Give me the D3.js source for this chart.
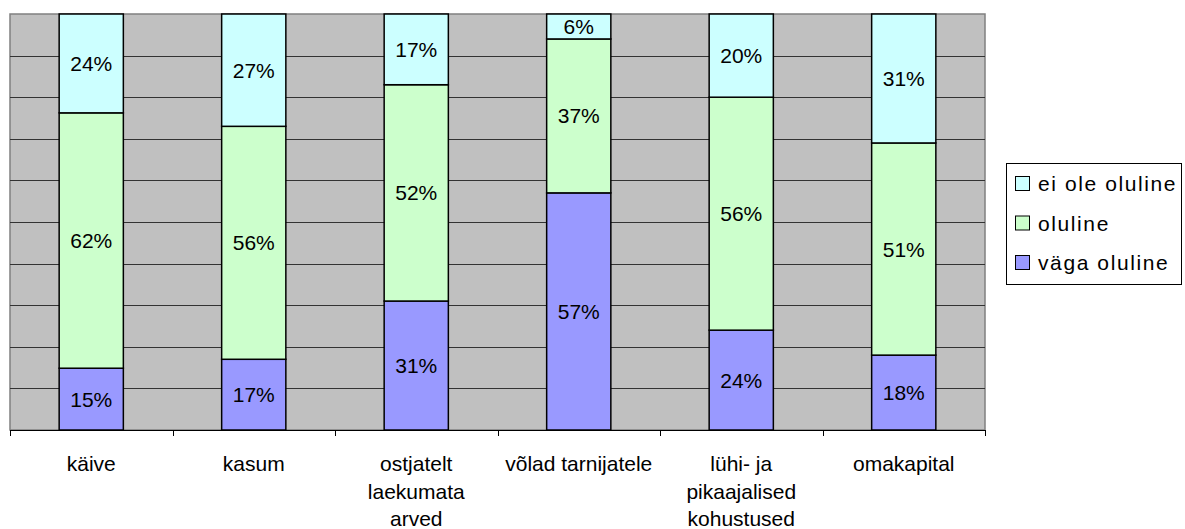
<!DOCTYPE html>
<html><head><meta charset="utf-8">
<script src="https://cdn.jsdelivr.net/npm/d3@7"></script>
<style>body{margin:0;background:#fff}svg{display:block}text{font-family:"Liberation Sans",Arial,sans-serif}</style>
</head><body>
<svg id="c" width="1185" height="529"></svg>
<script>
const categories = ["käive","kasum","ostjatelt laekumata arved","võlad tarnijatele","lühi- ja pikaajalised kohustused","omakapital"];
const categoryLines = [["käive"],["kasum"],["ostjatelt","laekumata","arved"],["võlad tarnijatele"],["lühi- ja","pikaajalised","kohustused"],["omakapital"]];
const seriesNames = ["väga oluline","oluline","ei ole oluline"];
const vagaOluline = [15,17,31,57,24,18];
const oluline = [62,56,52,37,56,51];
const eiOleOluline = [24,27,17,6,20,31];
const colors = ["#9999FF","#CCFFCC","#CCFFFF"];
const gridTicks = [0,0.1,0.2,0.3,0.4,0.5,0.6,0.7,0.8,0.9,1];

const svg = d3.select("#c");
const L=10,R=985,T=14,B=430;
const rows = categories.map((c,i)=>({cat:c, "väga oluline":vagaOluline[i], "oluline":oluline[i], "ei ole oluline":eiOleOluline[i]}));
const stack = d3.stack().keys(seriesNames).offset(d3.stackOffsetExpand);
const series = stack(rows);
const x = d3.scaleBand().domain(categories).range([L,R]).paddingInner(0).paddingOuter(0);
const y = d3.scaleLinear().domain([0,1]).range([B,T]);

svg.append("rect").attr("x",L).attr("y",T).attr("width",R-L).attr("height",B-T).attr("fill","#C0C0C0").attr("stroke","#808080").attr("stroke-width",1.5);
svg.append("g").selectAll("line").data(gridTicks.slice(1,-1)).join("line")
  .attr("x1",L).attr("x2",R).attr("y1",d=>Math.round(y(d))+0.5).attr("y2",d=>Math.round(y(d))+0.5)
  .attr("stroke","#333").attr("stroke-width",1);

const bw = x.bandwidth()*0.395;
const g = svg.append("g");
series.forEach((s,si)=>{
  g.selectAll(null).data(s).join("rect")
    .attr("x",d=>x(d.data.cat)+x.bandwidth()/2-bw/2)
    .attr("y",d=>y(d[1])).attr("width",bw).attr("height",d=>y(d[0])-y(d[1]))
    .attr("fill",colors[si]).attr("stroke","#000").attr("stroke-width",1.5);
});
series.forEach((s,si)=>{
  g.selectAll(null).data(s).join("text")
    .attr("x",d=>x(d.data.cat)+x.bandwidth()/2)
    .attr("y",d=>(y(d[0])+y(d[1]))/2)
    .attr("dy","0.36em").attr("text-anchor","middle").attr("font-size",21)
    .text(d=>d.data[s.key]+"%");
});

// x axis
svg.append("line").attr("x1",L).attr("x2",R).attr("y1",B+0.5).attr("y2",B+0.5).attr("stroke","#000").attr("stroke-width",1);
const tickXs = categories.map(c=>x(c)).concat([R]);
svg.append("g").selectAll("line").data(tickXs).join("line")
  .attr("x1",d=>Math.round(d)+0.5).attr("x2",d=>Math.round(d)+0.5).attr("y1",B).attr("y2",B+6).attr("stroke","#000");
const lab = svg.append("g");
categoryLines.forEach((lines,i)=>{
  lines.forEach((ln,j)=>{
    lab.append("text").attr("x",x(categories[i])+x.bandwidth()/2).attr("y",471+j*27.5)
      .attr("text-anchor","middle").attr("font-size",21).text(ln);
  });
});

// legend
const lg = svg.append("g");
lg.append("rect").attr("x",1006.5).attr("y",163.5).attr("width",175).attr("height",121).attr("fill","#fff").attr("stroke","#000");
const legOrder = [2,1,0];
legOrder.forEach((si,k)=>{
  const yy = 183.5+k*39.5;
  lg.append("rect").attr("x",1015.5).attr("y",yy-7).attr("width",14).attr("height",14).attr("fill",colors[si]).attr("stroke","#000");
  lg.append("text").attr("x",1038).attr("y",yy).attr("dy","0.36em").attr("font-size",21).attr("letter-spacing",1.6).text(seriesNames[si]);
});
</script>
</body></html>
